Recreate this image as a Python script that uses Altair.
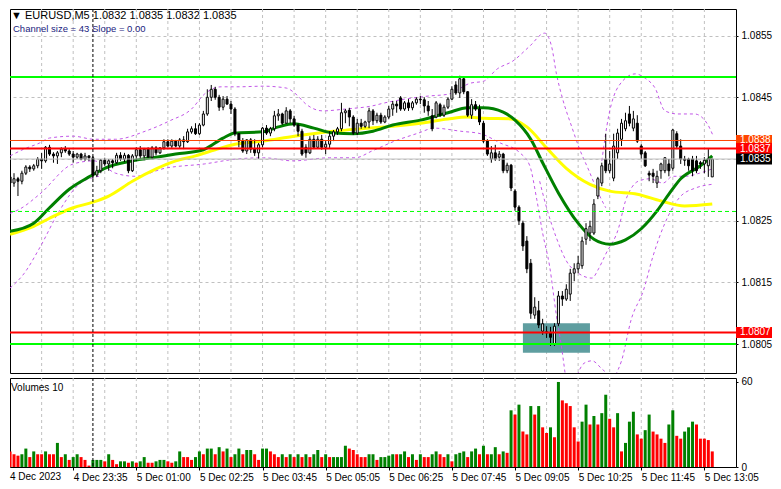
import altair as alt
import pandas as pd

FONT = "Liberation Sans"

# ---------------- data (EURUSD M5, 179 candles) ----------------
OPEN = [
1.08321, 1.08311, 1.08318, 1.08314, 1.08327, 1.08337, 1.08334, 1.08339, 1.08350, 1.08347,
1.08369, 1.08358, 1.08355, 1.08360, 1.08366, 1.08363, 1.08358, 1.08353, 1.08358, 1.08350,
1.08355, 1.08352, 1.08324, 1.08331, 1.08348, 1.08342, 1.08347, 1.08344, 1.08356, 1.08350,
1.08356, 1.08331, 1.08355, 1.08365, 1.08355, 1.08366, 1.08353, 1.08368, 1.08360, 1.08368,
1.08378, 1.08371, 1.08379, 1.08371, 1.08381, 1.08378, 1.08394, 1.08399, 1.08391, 1.08405,
1.08423, 1.08450, 1.08463, 1.08450, 1.08434, 1.08447, 1.08439, 1.08431, 1.08391, 1.08379,
1.08363, 1.08381, 1.08366, 1.08360, 1.08373, 1.08400, 1.08392, 1.08399, 1.08420, 1.08423,
1.08408, 1.08428, 1.08415, 1.08405, 1.08395, 1.08369, 1.08360, 1.08382, 1.08369, 1.08382,
1.08369, 1.08374, 1.08387, 1.08394, 1.08399, 1.08425, 1.08429, 1.08418, 1.08392, 1.08408,
1.08403, 1.08410, 1.08428, 1.08412, 1.08421, 1.08410, 1.08418, 1.08431, 1.08439, 1.08449,
1.08431, 1.08441, 1.08433, 1.08441, 1.08447, 1.08446, 1.08436, 1.08420, 1.08418, 1.08438,
1.08421, 1.08434, 1.08447, 1.08470, 1.08457, 1.08480, 1.08459, 1.08421, 1.08438, 1.08431,
1.08408, 1.08379, 1.08350, 1.08360, 1.08353, 1.08358, 1.08331, 1.08340, 1.08298, 1.08272,
1.08246, 1.08217, 1.08181, 1.08097, 1.08104, 1.08071, 1.08070, 1.08068, 1.08050, 1.08083,
1.08128, 1.08123, 1.08131, 1.08165, 1.08172, 1.08177, 1.08220, 1.08230, 1.08230, 1.08290,
1.08311, 1.08350, 1.08331, 1.08319, 1.08360, 1.08382, 1.08399, 1.08423, 1.08400, 1.08408,
1.08371, 1.08360, 1.08327, 1.08327, 1.08311, 1.08331, 1.08331, 1.08342, 1.08335, 1.08391,
1.08371, 1.08350, 1.08350, 1.08350, 1.08347, 1.08344, 1.08342, 1.08339, 1.08321]

HIGH = [
1.08331, 1.08327, 1.08321, 1.08331, 1.08340, 1.08340, 1.08342, 1.08353, 1.08360, 1.08371,
1.08373, 1.08361, 1.08363, 1.08369, 1.08371, 1.08366, 1.08363, 1.08360, 1.08360, 1.08360,
1.08356, 1.08355, 1.08339, 1.08350, 1.08352, 1.08350, 1.08350, 1.08360, 1.08361, 1.08360,
1.08358, 1.08358, 1.08369, 1.08371, 1.08368, 1.08369, 1.08371, 1.08371, 1.08369, 1.08382,
1.08382, 1.08382, 1.08381, 1.08384, 1.08387, 1.08399, 1.08403, 1.08408, 1.08408, 1.08428,
1.08463, 1.08470, 1.08467, 1.08454, 1.08452, 1.08452, 1.08444, 1.08434, 1.08392, 1.08384,
1.08382, 1.08384, 1.08382, 1.08376, 1.08402, 1.08405, 1.08402, 1.08428, 1.08431, 1.08425,
1.08434, 1.08431, 1.08420, 1.08408, 1.08399, 1.08374, 1.08387, 1.08389, 1.08387, 1.08389,
1.08379, 1.08395, 1.08397, 1.08402, 1.08441, 1.08431, 1.08433, 1.08421, 1.08415, 1.08415,
1.08412, 1.08433, 1.08431, 1.08425, 1.08425, 1.08421, 1.08436, 1.08444, 1.08444, 1.08452,
1.08444, 1.08447, 1.08444, 1.08450, 1.08452, 1.08450, 1.08444, 1.08431, 1.08444, 1.08441,
1.08438, 1.08450, 1.08468, 1.08476, 1.08485, 1.08483, 1.08460, 1.08447, 1.08444, 1.08438,
1.08412, 1.08382, 1.08371, 1.08373, 1.08363, 1.08360, 1.08344, 1.08342, 1.08301, 1.08275,
1.08250, 1.08225, 1.08188, 1.08126, 1.08120, 1.08091, 1.08079, 1.08078, 1.08084, 1.08136,
1.08136, 1.08147, 1.08172, 1.08181, 1.08193, 1.08224, 1.08246, 1.08250, 1.08285, 1.08321,
1.08344, 1.08391, 1.08363, 1.08391, 1.08399, 1.08415, 1.08425, 1.08436, 1.08428, 1.08421,
1.08374, 1.08363, 1.08331, 1.08334, 1.08331, 1.08344, 1.08353, 1.08350, 1.08399, 1.08395,
1.08382, 1.08355, 1.08352, 1.08355, 1.08355, 1.08347, 1.08353, 1.08366, 1.08350]

LOW = [
1.08309, 1.08305, 1.08290, 1.08309, 1.08324, 1.08329, 1.08331, 1.08335, 1.08334, 1.08344,
1.08355, 1.08344, 1.08342, 1.08353, 1.08360, 1.08355, 1.08344, 1.08350, 1.08348, 1.08347,
1.08347, 1.08318, 1.08321, 1.08327, 1.08339, 1.08331, 1.08335, 1.08342, 1.08347, 1.08345,
1.08327, 1.08329, 1.08347, 1.08350, 1.08348, 1.08352, 1.08350, 1.08356, 1.08358, 1.08365,
1.08369, 1.08368, 1.08369, 1.08368, 1.08366, 1.08376, 1.08391, 1.08389, 1.08389, 1.08403,
1.08420, 1.08444, 1.08446, 1.08428, 1.08429, 1.08438, 1.08423, 1.08387, 1.08369, 1.08360,
1.08358, 1.08360, 1.08355, 1.08350, 1.08369, 1.08389, 1.08387, 1.08395, 1.08412, 1.08405,
1.08407, 1.08408, 1.08402, 1.08387, 1.08355, 1.08352, 1.08358, 1.08366, 1.08368, 1.08365,
1.08358, 1.08368, 1.08379, 1.08389, 1.08395, 1.08408, 1.08403, 1.08389, 1.08389, 1.08399,
1.08400, 1.08400, 1.08405, 1.08408, 1.08407, 1.08408, 1.08415, 1.08420, 1.08425, 1.08428,
1.08428, 1.08428, 1.08429, 1.08438, 1.08439, 1.08425, 1.08420, 1.08395, 1.08416, 1.08418,
1.08418, 1.08431, 1.08446, 1.08454, 1.08449, 1.08455, 1.08418, 1.08415, 1.08428, 1.08405,
1.08376, 1.08355, 1.08344, 1.08347, 1.08347, 1.08327, 1.08327, 1.08298, 1.08266, 1.08243,
1.08201, 1.08165, 1.08091, 1.08091, 1.08076, 1.08065, 1.08060, 1.08047, 1.08047, 1.08079,
1.08112, 1.08120, 1.08120, 1.08152, 1.08165, 1.08172, 1.08211, 1.08217, 1.08227, 1.08285,
1.08306, 1.08327, 1.08327, 1.08314, 1.08350, 1.08371, 1.08395, 1.08403, 1.08395, 1.08376,
1.08350, 1.08337, 1.08314, 1.08311, 1.08303, 1.08318, 1.08327, 1.08322, 1.08331, 1.08366,
1.08342, 1.08339, 1.08331, 1.08322, 1.08327, 1.08334, 1.08327, 1.08321, 1.08321]

CLOSE = [
1.08311, 1.08318, 1.08314, 1.08327, 1.08337, 1.08334, 1.08339, 1.08350, 1.08347, 1.08369,
1.08358, 1.08355, 1.08360, 1.08366, 1.08363, 1.08358, 1.08353, 1.08358, 1.08350, 1.08355,
1.08352, 1.08324, 1.08331, 1.08348, 1.08342, 1.08347, 1.08344, 1.08356, 1.08350, 1.08356,
1.08331, 1.08355, 1.08365, 1.08355, 1.08366, 1.08353, 1.08368, 1.08360, 1.08368, 1.08378,
1.08371, 1.08379, 1.08371, 1.08381, 1.08378, 1.08394, 1.08399, 1.08391, 1.08405, 1.08423,
1.08450, 1.08463, 1.08450, 1.08434, 1.08447, 1.08439, 1.08431, 1.08391, 1.08379, 1.08363,
1.08381, 1.08366, 1.08360, 1.08373, 1.08400, 1.08392, 1.08399, 1.08420, 1.08423, 1.08408,
1.08428, 1.08415, 1.08405, 1.08395, 1.08358, 1.08360, 1.08382, 1.08369, 1.08382, 1.08369,
1.08374, 1.08387, 1.08394, 1.08399, 1.08425, 1.08428, 1.08418, 1.08392, 1.08408, 1.08403,
1.08410, 1.08428, 1.08412, 1.08421, 1.08410, 1.08418, 1.08431, 1.08439, 1.08436, 1.08431,
1.08441, 1.08433, 1.08441, 1.08447, 1.08446, 1.08436, 1.08428, 1.08399, 1.08441, 1.08421,
1.08434, 1.08447, 1.08463, 1.08457, 1.08480, 1.08459, 1.08421, 1.08438, 1.08431, 1.08410,
1.08379, 1.08358, 1.08360, 1.08350, 1.08358, 1.08331, 1.08340, 1.08303, 1.08272, 1.08250,
1.08209, 1.08172, 1.08100, 1.08110, 1.08081, 1.08083, 1.08068, 1.08061, 1.08079, 1.08128,
1.08123, 1.08139, 1.08165, 1.08172, 1.08181, 1.08217, 1.08237, 1.08241, 1.08277, 1.08318,
1.08339, 1.08331, 1.08342, 1.08371, 1.08392, 1.08408, 1.08412, 1.08408, 1.08415, 1.08379,
1.08358, 1.08339, 1.08324, 1.08322, 1.08322, 1.08342, 1.08352, 1.08331, 1.08397, 1.08371,
1.08350, 1.08348, 1.08339, 1.08331, 1.08331, 1.08342, 1.08348, 1.08350, 1.08350]

VOLUME = [
11, 9, 8, 9, 13, 7, 11, 9, 9, 11,
9, 9, 17, 7, 9, 5, 7, 9, 7, 5,
1, 5, 5, 5, 4, 9, 5, 2, 4, 4,
3, 4, 3, 4, 7, 3, 3, 4, 5, 5,
4, 3, 4, 11, 7, 7, 5, 7, 11, 9,
13, 13, 9, 14, 11, 13, 7, 9, 13, 9,
12, 12, 9, 5, 13, 13, 11, 9, 7, 9,
7, 9, 7, 9, 7, 9, 7, 9, 12, 7,
9, 7, 7, 7, 7, 15, 13, 12, 9, 7,
7, 9, 9, 5, 7, 7, 8, 9, 9, 9,
11, 7, 9, 5, 9, 7, 7, 9, 11, 9,
7, 9, 4, 9, 10, 11, 7, 11, 13, 9,
15, 9, 9, 14, 9, 11, 10, 40, 37, 44,
25, 23, 43, 37, 43, 28, 24, 28, 21, 60,
47, 45, 43, 28, 18, 32, 44, 30, 36, 30,
38, 51, 34, 28, 38, 11, 17, 32, 39, 23,
20, 26, 37, 25, 23, 20, 17, 30, 40, 22,
20, 25, 28, 32, 30, 20, 20, 19, 11]

VOLUME_COLOR = ("rrrggrgrrg" "rrgrgrggrr" "rgggrgrrgg" "rgrggrrggg" "rrggrrrggr"
                "ggrgrgrggr" "ggrrggrrrg" "rgrgrgrggr" "grggggrrrr" "rggrggggrg"
                "grgrgrrggr" "rgrgggrggr" "grggrgrgrg" "rrgrgrrgrg" "rrrrrggrgr"
                "ggrrgrgggr" "rggrrrrggr" "rgggrrrrr")

GREEN_MA_IDX = [0, 6, 10, 15, 20, 24, 31, 37, 42, 49, 54, 57, 64, 68, 72, 77, 82, 87, 92, 97,
                104, 111, 116, 120, 125, 128, 132, 135, 139, 144, 148, 152, 156, 160, 164,
                167, 170, 175, 178]
GREEN_MA = [1.08233, 1.08246, 1.08271, 1.08301, 1.08321, 1.08335, 1.08347, 1.08353, 1.08358,
            1.08365, 1.08384, 1.08392, 1.08394, 1.08402, 1.08407, 1.08400, 1.08392, 1.08391,
            1.08395, 1.08405, 1.08413, 1.08425, 1.08433, 1.08433, 1.08426, 1.08413, 1.08382,
            1.08344, 1.08295, 1.08246, 1.08220, 1.08212, 1.08219, 1.08237, 1.08266, 1.08293,
            1.08318, 1.08339, 1.08355]
YELLOW_MA_IDX = [0, 6, 10, 16, 21, 25, 31, 37, 42, 47, 52, 57, 64, 72, 82, 89, 97, 104, 111,
                 116, 120, 127, 131, 136, 141, 147, 152, 159, 165, 171, 178]
YELLOW_MA = [1.08228, 1.08241, 1.08254, 1.08271, 1.08280, 1.08290, 1.08314, 1.08334, 1.08347,
             1.08355, 1.08365, 1.08374, 1.08379, 1.08387, 1.08395, 1.08399, 1.08403, 1.08408,
             1.08415, 1.08418, 1.08416, 1.08415, 1.08402, 1.08368, 1.08335, 1.08309, 1.08298,
             1.08293, 1.08282, 1.08274, 1.08277]

# purple dashed channel lines (candle position, price)
BAND_UPPER_IDX = [0, 3.5, 7.5, 10, 16, 21.25, 26.75, 34.25, 40.5, 46, 49.25, 53.5, 57.5, 64.25,
                  70, 72.5, 75, 79.25, 85, 91.75, 95, 100, 106, 111, 116.75, 120, 123.5, 127.5,
                  131.75, 135.5, 137.25, 138.5, 140, 142.5, 144.25, 146.75, 149.25, 151]
BAND_UPPER = [1.08355, 1.08366, 1.08376, 1.08384, 1.08387, 1.08382, 1.08382, 1.08395, 1.08412,
              1.08431, 1.08455, 1.08467, 1.08467, 1.08468, 1.08465, 1.08455, 1.08439, 1.08428,
              1.08431, 1.08436, 1.08441, 1.08447, 1.08452, 1.08455, 1.08473, 1.08476, 1.08496,
              1.08509, 1.08533, 1.08554, 1.08533, 1.08488, 1.08449, 1.08400, 1.08368, 1.08331,
              1.08293, 1.08271]
BAND_UPPER2_IDX = [150, 151.75, 154.25, 158.5, 161, 163.5, 166, 169.25, 173.5, 176.75, 178.25]
BAND_UPPER2 = [1.08347, 1.08420, 1.08468, 1.08488, 1.08481, 1.08465, 1.08428, 1.08423, 1.08423,
               1.08407, 1.08387]
BAND_LOWER_IDX = [0, 2.5, 7.5, 16, 21.25, 26.75, 31.75, 39.25, 49.25, 57.5, 64.25, 71.75, 81,
                  87.5, 91.75, 97.5, 103.5, 107.5, 114.25, 119.25, 124.25, 129.25, 131.75,
                  133.5, 135, 136.75, 138.5, 139.75, 140.75]
BAND_LOWER = [1.08262, 1.08269, 1.08293, 1.08342, 1.08347, 1.08327, 1.08322, 1.08335, 1.08342,
              1.08350, 1.08352, 1.08347, 1.08352, 1.08352, 1.08363, 1.08379, 1.08392, 1.08400,
              1.08395, 1.08391, 1.08376, 1.08360, 1.08339, 1.08285, 1.08230, 1.08177, 1.08096,
              1.08047, 1.08000]
BAND_LOWER2_IDX = [143.75, 145.5, 147.5, 150, 151.75]
BAND_LOWER2 = [1.08000, 1.08019, 1.08023, 1.08010, 1.08000]
BAND_LOWER3_IDX = [153.5, 155, 157.5, 160.5, 163, 166, 169.75, 173.75, 178]
BAND_LOWER3 = [1.08000, 1.08023, 1.08091, 1.08136, 1.08193, 1.08246, 1.08288, 1.08303, 1.08309]
BAND_MID_IDX = [134.25, 136, 138.5, 141, 144.25, 147.5, 149.25, 151, 154.25, 156, 157.5, 159.25,
                162.25, 165.5, 168, 171.25, 174.75, 178]
BAND_MID = [1.08314, 1.08271, 1.08222, 1.08185, 1.08164, 1.08157, 1.08173, 1.08196, 1.08238,
            1.08282, 1.08303, 1.08314, 1.08318, 1.08311, 1.08322, 1.08322, 1.08327, 1.08334]
BAND_LEFT_IDX = [0, 3.5, 7.5, 12.5, 17.5, 22.5]
BAND_LEFT = [1.08141, 1.08164, 1.08206, 1.08266, 1.08309, 1.08322]

PRICE_TICKS = [1.0805, 1.0815, 1.0825, 1.0835, 1.0845, 1.0855]
VOLUME_TICKS = [0, 60]
GRID_IDX = list(range(8, 184, 8))
TIME_TICK_IDX = [16, 32, 48, 64, 80, 96, 112, 128, 144, 160, 176]
TIME_TICK_LABELS = ["4 Dec 23:35", "5 Dec 01:00", "5 Dec 02:25", "5 Dec 03:45", "5 Dec 05:05",
                    "5 Dec 06:25", "5 Dec 07:45", "5 Dec 09:05", "5 Dec 10:25", "5 Dec 11:45",
                    "5 Dec 13:05"]
FIRST_TIME_LABEL = "4 Dec 2023"
SEPARATOR_IDX = 21

LEVEL_PRICES = [1.08483, 1.08380, 1.08367, 1.08350, 1.08265, 1.08069, 1.08050]
LEVEL_COLORS = ["#00FF00", "#FF4500", "#FF0000", "#C0C0C0", "#00FF00", "#FF0000", "#00FF00"]
LEVEL_WIDTHS = [2, 1, 2, 1, 1, 2, 2]
LEVEL_DASHED = [False, False, False, False, True, False, False]

BOX_PRICES = [1.08380, 1.08367, 1.08350, 1.08069]
BOX_LABELS = ["1.0838", "1.0837", "1.0835", "1.0807"]
BOX_COLORS = ["#FF4500", "#FF0000", "#000000", "#FF0000"]

ZONE_IDX = [130, 147]
ZONE_PRICE = [1.08036, 1.08084]

TITLE_1 = "\u25BC EURUSD,M5  1.0832 1.0835 1.0832 1.0835"
TITLE_2 = "Channel size = 43 Slope = 0.00"
VOL_TITLE = "Volumes 10"

# ---------------- layout ----------------
W = 726
HP = 364
HV = 89
PRICE_DOMAIN = [1.080032, 1.085931]
xs = alt.Scale(domain=[1.25, 1.25 + W / 4], nice=False, zero=False)
ys = alt.Scale(domain=PRICE_DOMAIN, nice=False, zero=False)
vs = alt.Scale(domain=[0, 62.8], nice=False, zero=False)
px_per_unit = HP / (PRICE_DOMAIN[1] - PRICE_DOMAIN[0])
half_box = 5.5 / px_per_unit

n = len(CLOSE)
df = pd.DataFrame({"i": range(n), "o": OPEN, "h": HIGH, "l": LOW, "c": CLOSE,
                   "vol": VOLUME, "vc": list(VOLUME_COLOR)})
df["lo"] = df[["o", "c"]].min(axis=1)
df["hi"] = df[["o", "c"]].max(axis=1)
df["dir"] = ["down" if c < o else "up" for o, c in zip(df.o, df.c)]

yax = alt.Axis(orient="right", values=PRICE_TICKS, format=".4f", title=None, grid=True,
               gridDash=[3, 3], gridColor="#C0C0C0", gridWidth=1, domain=False,
               ticks=True, tickSize=2, tickColor="black", labelFont=FONT,
               labelFontSize=10, labelColor="black", labelPadding=3)


def X(f):
    return alt.X(f, type="quantitative", scale=xs, axis=None)


def Y(f):
    return alt.Y(f, type="quantitative", scale=ys, axis=yax)


grid_df = pd.DataFrame({"g": GRID_IDX})
vgrid = alt.Chart(grid_df).mark_rule(color="#C0C0C0", strokeDash=[3, 3], strokeWidth=1).encode(x=X("g"))

zone = alt.Chart(pd.DataFrame({"x1": [ZONE_IDX[0]], "x2": [ZONE_IDX[1]],
                               "y1": [ZONE_PRICE[0]], "y2": [ZONE_PRICE[1]]})).mark_rect(
    color="#5F9EA0", opacity=1).encode(x=X("x1"), x2="x2", y=Y("y1"), y2="y2")

band_rows = []
for seg, (bi, bp) in enumerate([(BAND_UPPER_IDX, BAND_UPPER), (BAND_UPPER2_IDX, BAND_UPPER2),
                                 (BAND_LOWER_IDX, BAND_LOWER), (BAND_LOWER2_IDX, BAND_LOWER2),
                                 (BAND_LOWER3_IDX, BAND_LOWER3), (BAND_MID_IDX, BAND_MID),
                                 (BAND_LEFT_IDX, BAND_LEFT)]):
    for a, b in zip(bi, bp):
        band_rows.append({"seg": seg, "i": a, "p": b})
bands = alt.Chart(pd.DataFrame(band_rows)).mark_line(
    color="#C257E8", strokeWidth=1, strokeDash=[3, 3], interpolate="monotone", clip=True).encode(
    x=X("i"), y=Y("p"), detail="seg:N")

wicks = alt.Chart(df).mark_rule(color="black", strokeWidth=1, clip=True).encode(
    x=X("i"), y=Y("l"), y2="h")
bodies = alt.Chart(df).mark_bar(width=2, stroke="black", strokeWidth=1, clip=True).encode(
    x=X("i"), y=Y("lo"), y2="hi",
    fill=alt.Fill("dir:N", scale=alt.Scale(domain=["up", "down"], range=["white", "black"]), legend=None))

gma = alt.Chart(pd.DataFrame({"i": GREEN_MA_IDX, "p": GREEN_MA})).mark_line(
    color="#008000", strokeWidth=3, interpolate="monotone", clip=True).encode(x=X("i"), y=Y("p"))
yma = alt.Chart(pd.DataFrame({"i": YELLOW_MA_IDX, "p": YELLOW_MA})).mark_line(
    color="#FFFF00", strokeWidth=3, interpolate="monotone", clip=True).encode(x=X("i"), y=Y("p"))

level_layers = []
for p, col, wd, dsh in zip(LEVEL_PRICES, LEVEL_COLORS, LEVEL_WIDTHS, LEVEL_DASHED):
    kw = dict(color=col, strokeWidth=wd)
    if dsh:
        kw["strokeDash"] = [4, 3]
    level_layers.append(alt.Chart(pd.DataFrame({"p": [p]})).mark_rule(**kw).encode(y=Y("p")))

sep_df = pd.DataFrame({"s": [SEPARATOR_IDX]})
sep_p = alt.Chart(sep_df).mark_rule(color="black", strokeDash=[3, 2], strokeWidth=1).encode(x=X("s"))

box_df = pd.DataFrame({"p": BOX_PRICES, "lab": BOX_LABELS, "col": BOX_COLORS})
box_df["y1"] = box_df.p - half_box
box_df["y2"] = box_df.p + half_box
boxes = alt.Chart(box_df).mark_rect().encode(
    x=alt.value(W), x2=alt.value(W + 36), y=Y("y1"), y2="y2",
    color=alt.Color("col:N", scale=None))
box_text = alt.Chart(box_df).mark_text(align="left", baseline="middle", color="white",
                                       font=FONT, fontSize=10).encode(
    x=alt.value(W + 4), y=Y("p"), text="lab:N")

t1 = alt.Chart(pd.DataFrame({"t": [TITLE_1]})).mark_text(
    align="left", baseline="top", font=FONT, fontSize=11, color="black").encode(
    x=alt.value(1), y=alt.value(1), text="t:N")
t2 = alt.Chart(pd.DataFrame({"t": [TITLE_2]})).mark_text(
    align="left", baseline="top", font=FONT, fontSize=9.5, color="#1a237e").encode(
    x=alt.value(3), y=alt.value(15), text="t:N")

price = alt.layer(vgrid, zone, bands, yma, gma, wicks, bodies, *level_layers, sep_p,
                  boxes, box_text, t1, t2).properties(width=W, height=HP)

# ---------------- volume panel ----------------
expr = "''"
for ti, tl in reversed(list(zip(TIME_TICK_IDX, TIME_TICK_LABELS))):
    expr = f"datum.value == {ti} ? '{tl}' : ({expr})"

xax_v = alt.Axis(values=TIME_TICK_IDX, labelExpr=expr, labelAlign="left", title=None,
                 grid=False, domain=False, ticks=True, tickSize=3, tickColor="black",
                 labelFont=FONT, labelFontSize=10, labelColor="black", labelPadding=2)
vax = alt.Axis(orient="right", values=VOLUME_TICKS, title=None, grid=False, domain=False,
               ticks=True, tickSize=2, tickColor="black", labelFont=FONT, labelFontSize=10,
               labelColor="black", labelPadding=3)


def XV(f):
    return alt.X(f, type="quantitative", scale=xs, axis=xax_v)


vgrid_v = alt.Chart(grid_df).mark_rule(color="#C0C0C0", strokeDash=[3, 3], strokeWidth=1).encode(x=XV("g"))
vbars = alt.Chart(df).mark_bar(width=3, clip=True).encode(
    x=XV("i"), y=alt.Y("vol:Q", scale=vs, axis=vax),
    color=alt.Color("vc:N", scale=alt.Scale(domain=["g", "r"], range=["#008000", "#FF0000"]), legend=None))
sep_v = alt.Chart(sep_df).mark_rule(color="black", strokeDash=[3, 2], strokeWidth=1).encode(x=XV("s"))
vt = alt.Chart(pd.DataFrame({"t": [VOL_TITLE]})).mark_text(
    align="left", baseline="top", font=FONT, fontSize=10, color="black").encode(
    x=alt.value(1), y=alt.value(5), text="t:N")
first_lab = alt.Chart(pd.DataFrame({"t": [FIRST_TIME_LABEL]})).mark_text(
    align="left", baseline="top", font=FONT, fontSize=10, color="black").encode(
    x=alt.value(0), y=alt.value(HV + 5), text="t:N")

vol = alt.layer(vgrid_v, vbars, sep_v, vt, first_lab).properties(width=W, height=HV)

chart = alt.vconcat(price, vol, spacing=2).properties(
    padding=0, background="white").configure_view(stroke="black", strokeWidth=1)

chart.save("out.html", embed_options={"renderer": "svg", "actions": False})
